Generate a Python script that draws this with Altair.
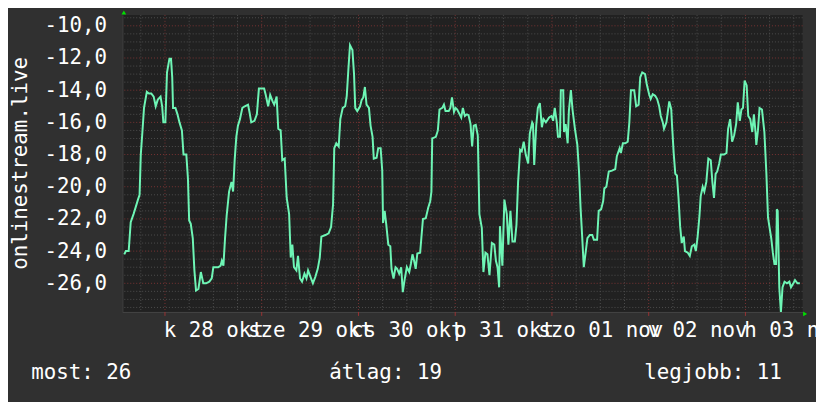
import altair as alt
import pandas as pd
import numpy as np

# ---------------- data (hour offset from 2014-10-28 00:00 UTC, value) ----------------
START = "2014-10-28T00:00:00Z"
view_start_h = -10.57
view_end_h = 158.19
y_lo, y_hi = -27.78, -9.32

oct27 = [(-10.1,-24.2),(-9.7,-24.0),(-9.0,-24.0),(-8.5,-22.2),(-7.8,-21.7),(-7.3,-21.3),(-6.7,-20.8),(-6.3,-20.5),
         (-6.0,-18.0),(-5.6,-16.6),(-5.2,-15.1),(-4.5,-14.1),(-4.0,-14.2),(-3.4,-14.2),(-2.8,-14.4),(-2.3,-15.0),
         (-1.8,-14.6),(-1.1,-14.4),(-0.7,-15.0),(-0.4,-16.0)]
oct28 = [(0.1,-16.0),(0.5,-12.9),(1.1,-12.05),(1.5,-12.05),(1.8,-13.2),(2.0,-15.1),(2.6,-15.1),(3.1,-15.5),(3.6,-16.0),
         (4.2,-16.5),(4.6,-18.0),(5.3,-18.0),(5.7,-19.5),(6.0,-22.1),(6.4,-22.3),(6.9,-23.2),(7.3,-25.2),(7.7,-26.45),
         (8.3,-26.35),(8.9,-25.3),(9.5,-26.0),(10.2,-26.0),(11.0,-25.9),(11.6,-25.7),(12.0,-25.0),(13.2,-25.0),
         (13.8,-24.9),(14.1,-24.6),(14.5,-24.9),(14.9,-23.2),(15.3,-21.8),(15.9,-20.3),(16.5,-19.7),(16.9,-20.3),
         (17.3,-18.3),(17.7,-16.9),(18.1,-16.2),(18.6,-15.8),(19.2,-15.1),(19.8,-15.0),(20.6,-14.9),(21.0,-15.4),
         (21.4,-16.0),(22.2,-15.9),(22.8,-15.5),(23.3,-13.9),(23.8,-13.9)]
oct29 = [(24.6,-13.9),(25.0,-14.3),(25.6,-15.0),(26.1,-14.3),(26.7,-14.7),(27.1,-14.9),(27.7,-14.4),(28.1,-16.4),
         (28.7,-16.5),(29.1,-18.35),(29.7,-18.25),(30.2,-20.7),(30.8,-21.7),(31.2,-24.4),(31.6,-23.6),(32.0,-25.0),
         (32.6,-25.2),(33.0,-24.3),(33.5,-25.7),(34.0,-25.9),(34.6,-25.4),(35.1,-25.7),(35.5,-25.2),(36.1,-25.6),
         (36.7,-26.0),(37.3,-25.6),(37.9,-25.1),(38.4,-24.4),(38.8,-23.1),(39.8,-23.0),(40.6,-22.9),(41.2,-22.5),
         (41.7,-21.1),(42.0,-17.6),(42.5,-17.3),(43.1,-17.5),(43.5,-15.8),(44.1,-15.1),(44.7,-15.0),(45.1,-14.35),
         (45.5,-12.7),(45.9,-11.2),(46.5,-11.5),(46.9,-13.0),(47.2,-15.1),(47.7,-15.3)]
oct30 = [(48.4,-15.0),(48.8,-14.6),(49.2,-14.45),(49.6,-13.8),(50.0,-14.9),(50.6,-15.1),(51.0,-16.2),(51.5,-16.9),
         (51.8,-18.25),(52.5,-18.2),(52.9,-17.6),(53.5,-17.6),(53.9,-19.0),(54.1,-22.25),(54.5,-21.5),(54.9,-22.35),
         (55.4,-23.6),(55.9,-23.7),(56.2,-25.1),(56.7,-25.7),(57.2,-25.0),(57.6,-25.1),(58.1,-25.4),(58.6,-25.0),
         (59.0,-26.55),(59.5,-25.7),(60.0,-25.0),(60.6,-25.3),(61.0,-24.8),(61.4,-24.2),(61.8,-24.6),(62.2,-25.1),
         (62.6,-24.15),(63.3,-24.1),(63.6,-23.2),(64.0,-22.0),(64.7,-21.95),(65.3,-21.3),(65.8,-20.9),(66.1,-20.3),
         (66.3,-17.0),(67.2,-16.9),(67.7,-16.5),(68.1,-15.2),(68.8,-15.1),(69.2,-14.9),(69.6,-15.3),(70.4,-15.3),
         (70.8,-15.1),(71.2,-14.45),(71.7,-15.35)]
oct31 = [(72.1,-15.1),(72.5,-15.2),(73.1,-15.5),(73.5,-15.7),(73.9,-15.1),(74.4,-15.6),(74.9,-15.5),(75.3,-15.55),
         (75.8,-16.1),(76.2,-17.5),(76.6,-16.2),(77.1,-16.15),(77.6,-16.8),(78.0,-21.7),(78.6,-22.55),(79.0,-25.3),
         (79.5,-24.1),(80.0,-24.2),(80.5,-25.5),(81.1,-23.5),(81.7,-23.6),(82.1,-24.6),(82.5,-25.0),(82.9,-26.25),
         (83.1,-22.45),(83.7,-24.9),(84.2,-20.8),(84.8,-21.7),(85.2,-23.6),(85.7,-21.5),(86.2,-23.4),(86.8,-23.4),
         (87.2,-22.35),(87.6,-19.7),(88.1,-17.7),(88.5,-17.8),(89.0,-17.2),(89.5,-18.0),(90.1,-18.55),(90.5,-16.7),
         (91.1,-16.0),(91.3,-16.1),(91.6,-18.65),(92.1,-16.2),(92.5,-15.1),(93.0,-14.8),(93.5,-16.3),(93.9,-15.8),
         (94.5,-16.0),(95.3,-15.7),(95.9,-15.6)]
nov01 = [(96.3,-15.9),(96.7,-15.1),(97.2,-16.0),(97.5,-16.9),(98.0,-16.9),(98.2,-14.0),(98.8,-14.0),(99.0,-16.6),
         (99.4,-16.1),(99.9,-17.3),(100.2,-15.3),(100.7,-14.0),(101.1,-15.2),(101.7,-16.4),(102.3,-17.4),(102.7,-19.0),
         (103.1,-21.3),(103.5,-23.1),(103.9,-25.0),(104.4,-24.0),(104.8,-23.2),(105.4,-23.0),(106.0,-23.0),(106.4,-23.3),
         (107.2,-23.3),(107.6,-21.5),(108.2,-21.4),(108.7,-20.9),(109.0,-20.1),(109.5,-20.0),(110.1,-19.05),(110.9,-19.0),
         (111.7,-18.9),(112.1,-18.1),(112.8,-17.6),(113.1,-17.9),(113.6,-17.3),(114.2,-17.3),(114.8,-17.2),(115.2,-16.0),
         (115.6,-14.0),(116.4,-14.0),(116.9,-15.0),(117.5,-14.9),(117.9,-13.2),(118.4,-12.9),(119.1,-13.0),(119.5,-13.6)]
nov02 = [(120.1,-14.25),(120.5,-14.55),(121.0,-14.25),(121.6,-14.35),(122.1,-14.55),(122.6,-15.0),(123.0,-15.6),
         (123.5,-16.0),(123.8,-16.4),(124.4,-16.0),(125.1,-14.7),(125.6,-15.2),(125.8,-16.2),(126.2,-17.9),(126.6,-19.2),
         (127.0,-19.3),(127.4,-20.7),(127.8,-22.45),(128.2,-23.5),(128.7,-23.1),(129.0,-24.0),(129.7,-24.1),(130.2,-24.3),
         (130.7,-23.7),(131.3,-23.6),(131.7,-24.0),(132.1,-23.2),(132.6,-21.8),(132.9,-20.6),(133.4,-20.0),(133.8,-20.3),
         (134.3,-19.7),(134.8,-18.25),(135.4,-18.35),(135.8,-19.7),(136.2,-20.7),(136.6,-19.2),(137.0,-19.05),
         (137.5,-18.55),(137.9,-18.0),(138.7,-18.0),(139.3,-17.9),(139.7,-16.4),(140.2,-15.8),(140.7,-17.2),
         (141.2,-16.8),(141.7,-16.1),(142.1,-14.75),(142.6,-15.9),(143.0,-15.2),(143.4,-15.1),(143.8,-13.4)]
nov03 = [(144.3,-13.7),(144.7,-15.6),(145.2,-15.8),(145.7,-16.6),(146.1,-15.5),(146.5,-16.6),(146.7,-17.4),
         (147.1,-16.5),(147.5,-15.1),(148.1,-15.2),(148.7,-16.6),(149.2,-19.2),(149.6,-21.9),(150.0,-22.55),
         (150.4,-23.2),(150.8,-24.1),(151.2,-24.8),(151.6,-24.8),(151.8,-21.4),(152.0,-21.5),(152.4,-26.25),
         (152.8,-27.8),(153.2,-26.25),(153.7,-25.9),(154.3,-26.0),(154.9,-25.9),(155.3,-26.25),(155.9,-26.0),
         (156.3,-25.8),(156.9,-26.0),(157.5,-26.0)]

series_name = "onlinestream.live"
stat_labels = ["most", "átlag", "legjobb"]
stat_values = [26, 19, 11]
y_ticks = [-26, -24, -22, -20, -18, -16, -14, -12, -10]
day_abbr = ["v", "h", "k", "sze", "cs", "p", "szo"]
month_abbr = ["jan", "feb", "márc", "ápr", "máj", "jún", "júl", "aug", "szept", "okt", "nov", "dec"]

# ---------------- build tables ----------------
base = pd.Timestamp(START)

def ts(h):
    return base + pd.to_timedelta(h, unit="h")

def iso(h):
    return ts(h).strftime("%Y-%m-%dT%H:%M:%SZ")

def ms(h):
    return int(ts(h).value // 10**6)

pairs = oct27 + oct28 + oct29 + oct30 + oct31 + nov01 + nov02 + nov03
df = pd.DataFrame({"time": [iso(h) for h, _ in pairs], "value": [v for _, v in pairs]})

grid_h = list(range(-6, 157, 6))
vmajor = pd.DataFrame({"time": [iso(h) for h in grid_h if h % 24 == 0]})
vminor = pd.DataFrame({"time": [iso(h) for h in grid_h if h % 24 != 0]})
hvals = [round(v, 1) for v in np.arange(-27.5, -9.4, 0.5)]
hmajor = pd.DataFrame({"value": [v for v in hvals if v % 2 == 0]})
hminor = pd.DataFrame({"value": [v for v in hvals if v % 2 != 0]})

label_ms = [ms(h) for h in range(12, 157, 24)]

FONT = "DejaVu Sans Mono"
FS = 21
BG = "#303030"
CANVAS = "#212121"
MINOR = "#4e4e4e"
MAJOR = "#7a3434"
LINE = "#6ef5b5"

xscale = alt.Scale(type="utc", domain=[ms(view_start_h), ms(view_end_h)])
yscale = alt.Scale(domain=[y_lo, y_hi], nice=False, zero=False)

days_js = "[" + ",".join("'%s'" % d for d in day_abbr) + "]"
months_js = "[" + ",".join("'%s'" % m for m in month_abbr) + "]"
lab_expr_x = (days_js + "[utcday(datum.value)] + ' ' + utcFormat(datum.value, '%d') + ' ' + "
              + months_js + "[utcmonth(datum.value)]")
lab_expr_y = "(datum.value < 0 ? '-' : '') + replace(format(abs(datum.value), '.1f'), '.', ',')"

x_axis = alt.Axis(values=label_ms, labelExpr=lab_expr_x, title=None, grid=False, ticks=False,
                  domain=True, domainColor="#444444", labelOverlap=False, labelBound=False,
                  labelFlush=False, labelAlign="center", labelBaseline="middle", labelPadding=19,
                  labelFont=FONT, labelFontSize=FS, labelColor="#ffffff")
y_axis = alt.Axis(values=y_ticks, labelExpr=lab_expr_y, title=None, grid=False, ticks=False,
                  domain=True, domainColor="#444444", labelPadding=16, labelFont=FONT,
                  labelFontSize=FS, labelColor="#ffffff", labelBaseline="middle")

X = alt.X("time:T", scale=xscale, axis=x_axis)
Y = alt.Y("value:Q", scale=yscale, axis=y_axis)

line_layer = alt.Chart(df).mark_line(color=LINE, strokeWidth=2, clip=True, interpolate="linear").encode(
    x=X, y=Y)

vmin_layer = alt.Chart(vminor).mark_rule(color=MINOR, strokeDash=[1, 2], strokeWidth=1).encode(x=X)
vmaj_layer = alt.Chart(vmajor).mark_rule(color=MAJOR, strokeDash=[1, 2], strokeWidth=1).encode(x=X)
hmin_layer = alt.Chart(hminor).mark_rule(color=MINOR, strokeDash=[1, 2], strokeWidth=1).encode(y=Y)
hmaj_layer = alt.Chart(hmajor).mark_rule(color=MAJOR, strokeDash=[1, 2], strokeWidth=1).encode(y=Y)
tick_layer = alt.Chart(vmajor).mark_rule(color="#993333", strokeWidth=1).encode(
    x=X, y=alt.value(300), y2=alt.value(304))

def arrow(shape, px, py):
    return alt.Chart(pd.DataFrame({"a": [0]})).mark_point(
        filled=True, size=22, color="#00e000", opacity=1, shape=shape).encode(
        x=alt.value(px), y=alt.value(py))

arrow_up = arrow("triangle-up", 1.5, -2.5)
arrow_right = arrow("triangle-right", 689.5, 302.0)

title_layer = alt.Chart(pd.DataFrame({"t": [series_name]})).mark_text(
    angle=270, font=FONT, fontSize=FS, color="#ffffff", align="center", baseline="alphabetic").encode(
    x=alt.value(-96), y=alt.value(150), text="t:N")

stat_x = [-92, 209, 527]
stat_layers = []
for lab, val, sx in zip(stat_labels, stat_values, stat_x):
    stat_layers.append(
        alt.Chart(pd.DataFrame({"t": [f"{lab}: {val}"]})).mark_text(
            font=FONT, fontSize=FS, color="#ffffff", align="left", baseline="middle").encode(
            x=alt.value(sx), y=alt.value(362), text="t:N")
    )

chart = alt.layer(vmin_layer, hmin_layer, vmaj_layer, hmaj_layer, tick_layer, line_layer,
                  arrow_up, arrow_right, title_layer, *stat_layers).properties(
    width=687, height=300,
    autosize=alt.AutoSizeParams(type="none"),
    padding={"left": 115.5, "top": 5, "right": 13.5, "bottom": 89},
    background=BG,
).configure_view(fill=CANVAS, stroke=None)

chart.save("out.html", embed_options={"renderer": "svg", "actions": False})
